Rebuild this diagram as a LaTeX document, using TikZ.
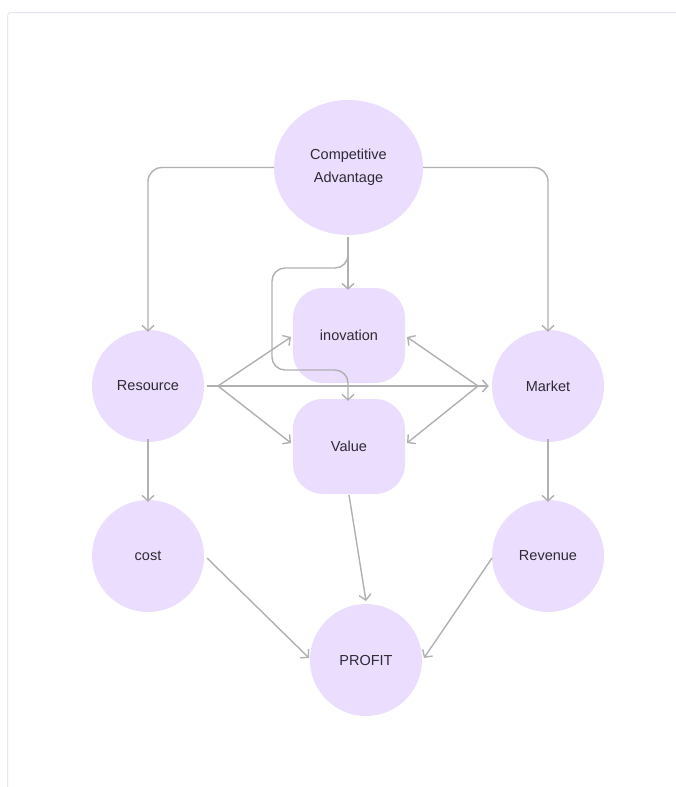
\documentclass[tikz,border=0pt]{standalone}
\usepackage{fontspec}
\setmainfont{Liberation Sans}
\usetikzlibrary{arrows.meta,shapes.geometric}
\definecolor{nodefill}{HTML}{EBDDFD}
\definecolor{linegray}{HTML}{B0B0B0}
\definecolor{txt}{HTML}{2F2A35}
\definecolor{framec}{HTML}{E8E4F4}
\begin{document}
\begin{tikzpicture}[x=1pt,y=-1pt,
  every node/.style={font=\fontsize{14.5}{23}\selectfont, text=txt},
  circnode/.style={circle, fill=nodefill, minimum size=112pt, inner sep=0pt},
  ellnode/.style={ellipse, fill=nodefill, minimum width=149pt, minimum height=135pt, inner sep=0pt, align=center},
  boxnode/.style={rectangle, rounded corners=30pt, fill=nodefill, minimum width=112pt, minimum height=95pt, inner sep=0pt},
  conn/.style={draw=linegray, line width=1.4pt, -{Straight Barb[length=5.5pt,width=12pt,line width=1.4pt]}}]
\useasboundingbox (0,0) rectangle (676,787);
% frame
\draw[framec, line width=1pt, rounded corners=3.5pt] (7.5,787) -- (7.5,12.5) -- (676,12.5);
% nodes
\node[ellnode] (ca) at (348.5,167.5) {Competitive\\Advantage};
\node[boxnode] (inov) at (349,335.5) {inovation};
\node[boxnode] (val) at (349,446.5) {Value};
\node[circnode] (res) at (148,386) {Resource};
\node[circnode] (mkt) at (548,386) {Market};
\node[circnode] (cost) at (148,556) {cost};
\node[circnode] (rev) at (548,556) {Revenue};
\node[circnode] (prof) at (366,660) {PROFIT};
\coordinate (fanL) at (218,386);
\coordinate (fanR) at (478,386);
\coordinate (caB) at (348,237);
% connectors
\draw[conn, rounded corners=14pt] (ca.west) -| ([yshift=-2pt]res.north);
\draw[conn, rounded corners=14pt] (ca.east) -| ([yshift=-2pt]mkt.north);
\draw[conn] (caB) -- ([yshift=-2pt]inov.north -| caB);
\draw[conn, rounded corners=13pt] (caB) -- (348,268) -- (272,268) -- (272,370) -- (348,370) -- ([yshift=-2pt]val.north -| caB);
\draw[conn] ([xshift=3pt]res.east) -- ([xshift=-3pt]mkt.west);
\draw[conn] (fanL) -- (291,337);
\draw[conn] (fanL) -- (291,443);
\draw[conn] (fanR) -- (407,337);
\draw[conn] (fanR) -- (407,443);
\draw[conn] ([yshift=3pt]res.south) -- ([yshift=-2pt]cost.north);
\draw[conn] ([yshift=3pt]mkt.south) -- ([yshift=-2pt]rev.north);
\draw[conn] (349,495) -- (366,601);
\draw[conn] (207,558) -- (309,658);
\draw[conn] (492,558) -- (424,658);
\end{tikzpicture}
\end{document}
